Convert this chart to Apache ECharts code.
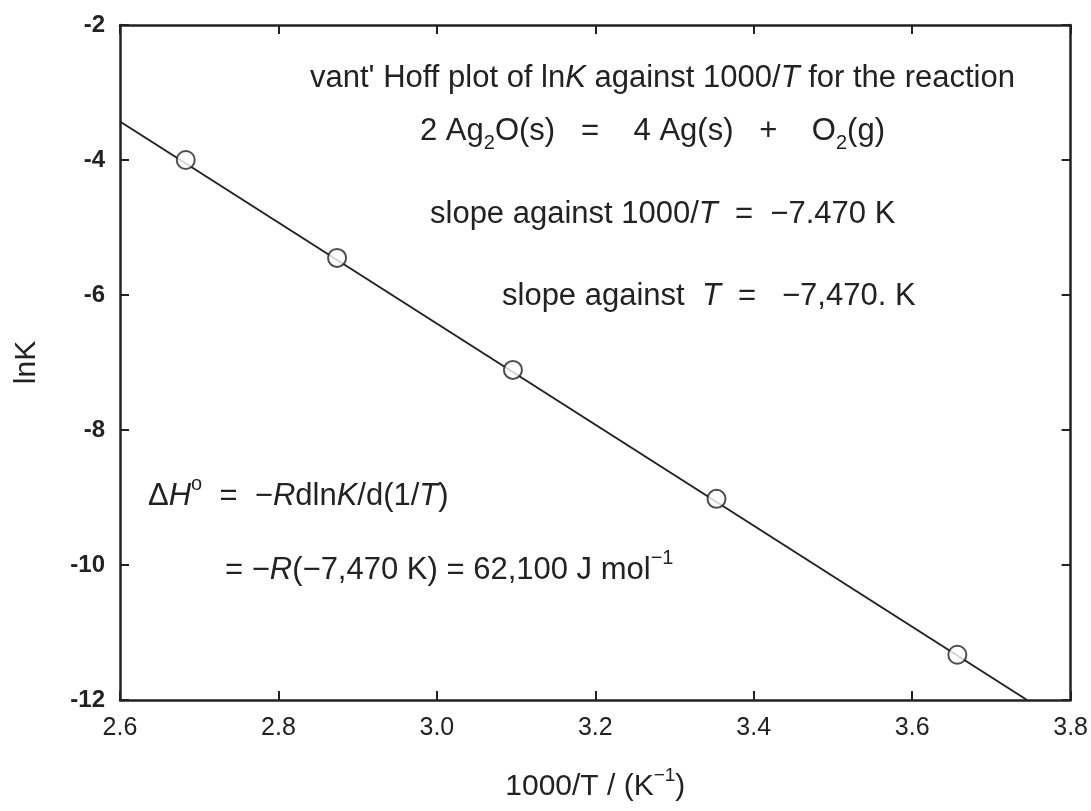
<!DOCTYPE html>
<html>
<head>
<meta charset="utf-8">
<script src="https://cdn.jsdelivr.net/npm/echarts@6/dist/echarts.min.js"></script>
<style>
  html, body { margin: 0; padding: 0; background: #fff; }
  #main { width: 1091px; height: 811px; }
</style>
</head>
<body>
<div id="main"></div>
<script>
// measured points: 1000/T and lnK
const invT = [2.683, 2.874, 3.096, 3.353, 3.657];
const lnK = [-4.0, -5.45, -7.11, -9.02, -11.33];
// fitted line, read at its ends
const fitX = [2.6, 3.745];
const fitY = [-3.43, -12];

const chartDom = document.getElementById('main');
const myChart = echarts.init(chartDom);

const font = "'Liberation Sans', Arial, sans-serif";
const ink = '#222';

const rich = {
  n: { fontSize: 31, fontFamily: font, color: ink, lineHeight: 44 },
  i: { fontSize: 31, fontFamily: font, color: ink, fontStyle: 'italic', lineHeight: 44 },
  s: { fontSize: 20, fontFamily: font, color: ink, verticalAlign: 'bottom', lineHeight: 22 },
  p: { fontSize: 20, fontFamily: font, color: ink, verticalAlign: 'top', lineHeight: 22 }
};

// text placed by its left edge and top
function note(x, y, text) {
  return {
    type: 'text',
    left: x,
    top: y,
    style: { text: text, rich: rich, fill: ink }
  };
}

const axisBase = {
  axisLine: { show: true, onZero: false, lineStyle: { color: ink, width: 2.5 } },
  axisTick: { show: true, inside: true, length: 9, lineStyle: { color: ink, width: 2 } },
  splitLine: { show: false }
};

const option = {
  backgroundColor: '#fff',
  animation: false,
  grid: { left: 120, right: 18, top: 25, bottom: 111 },
  xAxis: [
    Object.assign({}, axisBase, {
      type: 'value', position: 'bottom', min: 2.6, max: 3.8, interval: 0.2,
      axisLabel: {
        color: ink, fontSize: 25, fontFamily: font, margin: 16,
        formatter: v => v.toFixed(1)
      },
      name: '{n|1000/T / (K}{p|−1}{n|)}',
      nameLocation: 'middle',
      nameGap: 66,
      nameTextStyle: {
        rich: {
          n: { fontSize: 30, fontFamily: font, color: ink, lineHeight: 42 },
          p: { fontSize: 19, fontFamily: font, color: ink, verticalAlign: 'top', lineHeight: 22 }
        }
      }
    }),
    Object.assign({}, axisBase, {
      type: 'value', position: 'top', min: 2.6, max: 3.8, interval: 0.2,
      axisLabel: { show: false }
    })
  ],
  yAxis: [
    Object.assign({}, axisBase, {
      type: 'value', position: 'left', min: -12, max: -2, interval: 2,
      axisLabel: { color: ink, fontSize: 24, fontWeight: 'bold', fontFamily: font, margin: 15 },
      name: 'lnK',
      nameLocation: 'middle',
      nameGap: 78,
      nameRotate: 90,
      nameTextStyle: { color: ink, fontSize: 30, fontFamily: font }
    }),
    Object.assign({}, axisBase, {
      type: 'value', position: 'right', min: -12, max: -2, interval: 2,
      axisLabel: { show: false }
    })
  ],
  graphic: [
    note(310, 63, "{n|vant' Hoff plot of ln}{i|K}{n| against 1000/}{i|T}{n| for the reaction}"),
    note(420, 116, '{n|2 Ag}{s|2}{n|O(s)   =    4 Ag(s)   +    O}{s|2}{n|(g)}'),
    note(430, 199, '{n|slope against 1000/}{i|T}{n|  =  −7.470 K}'),
    note(502, 281, '{n|slope against  }{i|T}{n|  =   −7,470. K}'),
    note(148, 474, '{n|Δ}{i|H}{p|o}{n|  =  −}{i|R}{n|dln}{i|K}{n|/d(1/}{i|T}{n|)}'),
    note(225, 548, '{n|= −}{i|R}{n|(−7,470 K) = 62,100 J mol}{p|−1}')
  ],
  series: [
    {
      type: 'line',
      data: fitX.map((x, k) => [x, fitY[k]]),
      symbol: 'none',
      lineStyle: { color: ink, width: 2 },
      z: 2
    },
    {
      type: 'scatter',
      data: invT.map((x, k) => [x, lnK[k]]),
      symbol: 'circle',
      symbolSize: 18,
      itemStyle: { color: '#fff', borderColor: ink, borderWidth: 2 },
      z: 3
    }
  ]
};

myChart.setOption(option);
</script>
</body>
</html>
